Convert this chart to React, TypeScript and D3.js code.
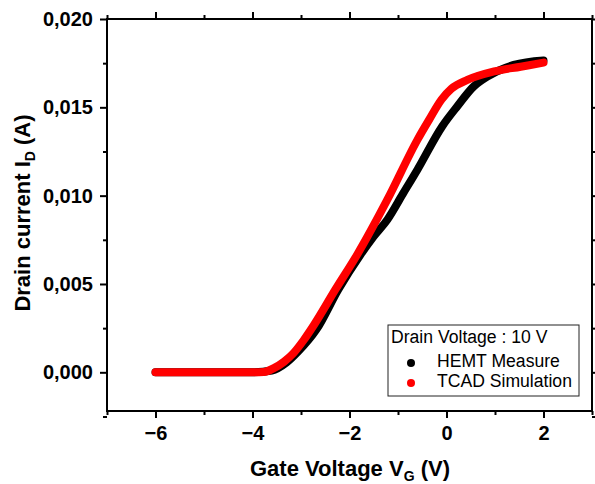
import React, { useEffect, useRef } from 'react';
import * as d3 from 'd3';

// Gate voltage (V) / drain current (A)
const hemtVg = [-6, -5, -4, -3.6, -3.3, -3.05, -2.68, -2.23, -1.77, -1.5, -1.22, -0.9, -0.6, -0.09, 0.22, 0.56, 0.84, 1.39, 2.0];
const hemtId = [0, 0, 0, 0.0001, 0.00055, 0.0012, 0.00243, 0.00469, 0.00667, 0.0077, 0.00864, 0.0101, 0.01147, 0.01392, 0.01505, 0.01618, 0.01674, 0.0174, 0.01765];

const tcadVg = [-6, -5, -4, -3.77, -3.55, -3.35, -3.15, -2.95, -2.74, -2.29, -1.84, -1.22, -0.6, -0.36, -0.1, 0.1, 0.43, 0.98, 1.53, 2.0];
const tcadId = [0, 0, 0, 0.00002, 0.00025, 0.0006, 0.0011, 0.0018, 0.00265, 0.00469, 0.00667, 0.00977, 0.01316, 0.01429, 0.01545, 0.01605, 0.01655, 0.01703, 0.0173, 0.01753];

const xMajor = [-6, -4, -2, 0, 2];
const xMinor = [-7, -5, -3, -1, 1, 3];
const yMajor = [0, 0.005, 0.01, 0.015, 0.02];
const yMinor = [-0.0025, 0.0025, 0.0075, 0.0125, 0.0175];

const legendTitle = 'Drain Voltage : 10 V';
const seriesNames = ['HEMT Measure', 'TCAD Simulation'];
const seriesColors = ['#000000', '#ff0000'];

export default function App() {
  const svgRef = useRef<SVGSVGElement>(null);

  useEffect(() => {
    if (!svgRef.current) return;
    const root = d3.select(svgRef.current);
    root.selectAll('*').remove();

    const left = 107, right = 592, top = 19, bottom = 411;
    const font = 'Liberation Sans, Arial, sans-serif';

    const x = d3.scaleLinear().domain([-7, 3]).range([left, right]);
    const y = d3.scaleLinear().domain([-0.00219, 0.02]).range([bottom, top]);

    const locale = d3.formatLocale({ decimal: ',', thousands: '.', grouping: [3], currency: ['', ''] });
    const yFmt = locale.format('.3f');

    // series (black under red)
    const line = d3.line<[number, number]>()
      .x(d => x(d[0]))
      .y(d => y(d[1]))
      .curve(d3.curveMonotoneX);

    const series = [
      hemtVg.map((v, i) => [v, hemtId[i]] as [number, number]),
      tcadVg.map((v, i) => [v, tcadId[i]] as [number, number]),
    ];
    series.forEach((pts, i) => {
      root.append('path')
        .attr('d', line(pts))
        .attr('fill', 'none')
        .attr('stroke', seriesColors[i])
        .attr('stroke-width', 8)
        .attr('stroke-linecap', 'round')
        .attr('stroke-linejoin', 'round');
    });

    const styleAxis = (g: d3.Selection<SVGGElement, unknown, null, undefined>) => {
      g.select('.domain').remove();
      g.selectAll('line').attr('stroke', '#000').attr('stroke-width', 2);
      g.selectAll('text')
        .attr('fill', '#000')
        .style('font-family', font)
        .style('font-size', '20px')
        .style('font-weight', 'bold');
    };

    // bottom
    root.append('g').attr('transform', `translate(0,${bottom})`)
      .call(d3.axisBottom(x).tickValues(xMajor).tickSize(7).tickPadding(8).tickFormat(d3.format('d') as any))
      .call(styleAxis);
    root.append('g').attr('transform', `translate(0,${bottom})`)
      .call(d3.axisBottom(x).tickValues(xMinor).tickSize(4).tickFormat(() => ''))
      .call(styleAxis);
    // top
    root.append('g').attr('transform', `translate(0,${top})`)
      .call(d3.axisTop(x).tickValues(xMajor).tickSize(7).tickFormat(() => ''))
      .call(styleAxis);
    root.append('g').attr('transform', `translate(0,${top})`)
      .call(d3.axisTop(x).tickValues(xMinor).tickSize(4).tickFormat(() => ''))
      .call(styleAxis);
    // left
    root.append('g').attr('transform', `translate(${left},0)`)
      .call(d3.axisLeft(y).tickValues(yMajor).tickSize(7).tickPadding(7).tickFormat(d => yFmt(d as number)))
      .call(styleAxis);
    root.append('g').attr('transform', `translate(${left},0)`)
      .call(d3.axisLeft(y).tickValues(yMinor).tickSize(4).tickFormat(() => ''))
      .call(styleAxis);
    // right
    root.append('g').attr('transform', `translate(${right},0)`)
      .call(d3.axisRight(y).tickValues(yMajor).tickSize(7).tickFormat(() => ''))
      .call(styleAxis);
    root.append('g').attr('transform', `translate(${right},0)`)
      .call(d3.axisRight(y).tickValues(yMinor).tickSize(4).tickFormat(() => ''))
      .call(styleAxis);

    // frame
    root.append('rect')
      .attr('x', left).attr('y', top)
      .attr('width', right - left).attr('height', bottom - top)
      .attr('fill', 'none').attr('stroke', '#000').attr('stroke-width', 2);

    // axis titles
    const xt = root.append('text')
      .attr('x', 350)
      .attr('y', 476)
      .attr('text-anchor', 'middle')
      .style('font-family', font).style('font-size', '22px').style('font-weight', 'bold');
    xt.append('tspan').text('Gate Voltage V');
    xt.append('tspan').attr('dy', 5).style('font-size', '14px').text('G');
    xt.append('tspan').attr('dy', -5).text(' (V)');

    const yt = root.append('text')
      .attr('transform', `translate(30,213) rotate(-90)`)
      .attr('text-anchor', 'middle')
      .style('font-family', font).style('font-size', '22px').style('font-weight', 'bold');
    yt.append('tspan').text('Drain current I');
    yt.append('tspan').attr('dy', 5).style('font-size', '14px').text('D');
    yt.append('tspan').attr('dy', -5).text(' (A)');

    // legend
    const lg = root.append('g');
    lg.append('rect')
      .attr('x', 388).attr('y', 325).attr('width', 191).attr('height', 71)
      .attr('fill', '#fff').attr('stroke', '#222').attr('stroke-width', 1);
    lg.append('text')
      .attr('x', 391).attr('y', 343)
      .style('font-family', font).style('font-size', '17.6px')
      .text(legendTitle);
    seriesNames.forEach((name, i) => {
      const cy = 363 + i * 20;
      lg.append('circle').attr('cx', 411).attr('cy', cy).attr('r', 4).attr('fill', seriesColors[i]);
      lg.append('text')
        .attr('x', 437).attr('y', cy + 4)
        .style('font-family', font).style('font-size', '17.6px')
        .text(name);
    });
  }, []);

  return (
    <div style={{ width: 595, height: 484 }}>
      <svg ref={svgRef} width={595} height={484} style={{ position: 'absolute', left: 0, top: 0, background: '#fff' }}></svg>
    </div>
  );
}
